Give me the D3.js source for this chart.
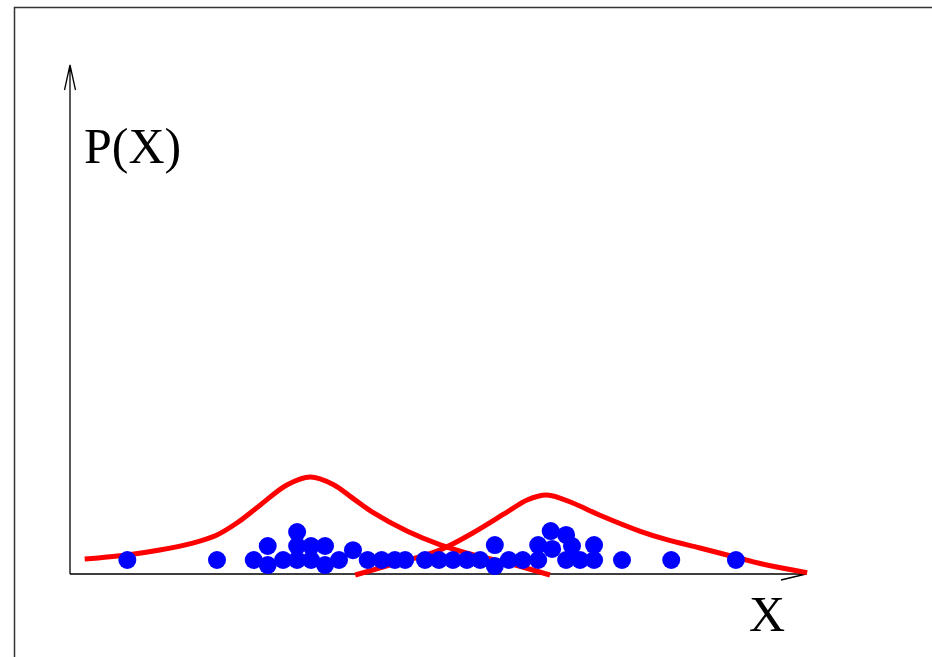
<!DOCTYPE html>
<html>
<head>
<meta charset="utf-8">
<script src="https://cdn.jsdelivr.net/npm/d3@7"></script>
<style>
  html, body { margin: 0; padding: 0; background: #fff; }
  svg { display: block; }
</style>
</head>
<body>
<div id="chart"></div>
<script>
// sample points (x in axis units 0..100, y = stacking height)
const dotX = [7.8, 20.0, 25.0, 26.9, 26.9, 29.0, 30.9, 30.9, 30.9, 32.8, 32.8, 34.7, 34.7, 36.6, 38.5,
  40.5, 42.4, 44.2, 45.6, 48.3, 50.2, 52.1, 54.0, 55.8, 57.8, 57.8, 59.7, 61.6, 63.7, 63.7,
  65.4, 65.6, 67.5, 68.3, 67.5, 69.4, 71.3, 71.3, 75.1, 81.8, 90.6];
const dotY = [1.0, 1.0, 1.0, 2.0, 0.64, 1.0, 3.0, 2.0, 1.0, 2.0, 1.0, 2.0, 0.64, 1.0, 1.7,
  1.0, 1.0, 1.0, 1.0, 1.0, 1.0, 1.0, 1.0, 1.0, 2.07, 0.57, 1.0, 1.0, 2.07, 1.0,
  3.07, 1.79, 2.79, 2.0, 1.0, 1.0, 2.07, 1.0, 1.0, 1.0, 1.0];

// first component curve
const curve1X = [2.0, 7.8, 12.2, 16.7, 20.0, 22.7, 25.9, 29.5, 32.7, 35.8, 38.5, 41.2, 45.9, 50.3, 54.8, 59.5, 65.3];
const curve1Y = [1.07, 1.36, 1.71, 2.21, 2.79, 3.64, 4.93, 6.36, 6.93, 6.4, 5.4, 4.4, 3.05, 2.1, 1.38, 0.79, -0.07];

// second component curve
const curve2X = [38.8, 43.5, 50.3, 54.8, 59.5, 62.2, 64.9, 68.4, 72.1, 77.6, 81.2, 85.7, 90.2, 94.8, 100.3];
const curve2Y = [-0.07, 0.64, 1.71, 2.93, 4.43, 5.29, 5.64, 5.07, 4.2, 3.05, 2.45, 1.86, 1.25, 0.64, 0.1];

const W = 932, H = 657;
const x0 = 70, y0 = 574;

const svg = d3.select("#chart").append("svg")
  .attr("width", W)
  .attr("height", H);

// frame
svg.append("rect")
  .attr("x", 14.5).attr("y", 7.5)
  .attr("width", W + 20).attr("height", H + 20)
  .attr("fill", "none")
  .attr("stroke", "#333")
  .attr("stroke-width", 1.5);

const x = d3.scaleLinear().domain([0, 100]).range([x0, 805]);
const y = d3.scaleLinear().domain([0, 36]).range([y0, 70]);

// axes with open arrowheads
const axis = svg.append("g")
  .attr("fill", "none")
  .attr("stroke", "#000")
  .attr("stroke-width", 1.3);

axis.append("path")
  .attr("d", "M" + x0 + "," + y0 + "V65 M64.5,90 L" + x0 + ",65 L75.5,90");
axis.append("path")
  .attr("d", "M" + x0 + "," + y0 + "H806 M781,568.5 L806,574 L781,580");

// red curves
const line = d3.line()
  .x(d => x(d[0]))
  .y(d => y(d[1]))
  .curve(d3.curveCatmullRom);

[[curve1X, curve1Y], [curve2X, curve2Y]].forEach(function(c) {
  svg.append("path")
    .datum(c[0].map((v, i) => [v, c[1][i]]))
    .attr("fill", "none")
    .attr("stroke", "#ff0000")
    .attr("stroke-width", 5)
    .attr("d", line);
});

// blue samples
svg.selectAll(".dot")
  .data(dotX.map((v, i) => [v, dotY[i]]))
  .enter()
  .append("circle")
    .attr("class", "dot")
    .attr("cx", d => x(d[0]))
    .attr("cy", d => y(d[1]))
    .attr("r", 9)
    .attr("fill", "#0000ff");

// labels
svg.append("text")
  .attr("x", 84).attr("y", 163)
  .attr("font-family", "Liberation Serif, Times New Roman, serif")
  .attr("font-size", 50)
  .text("P(X)");

svg.append("text")
  .attr("x", 749).attr("y", 631)
  .attr("font-family", "Liberation Serif, Times New Roman, serif")
  .attr("font-size", 50)
  .text("X");
</script>
</body>
</html>
